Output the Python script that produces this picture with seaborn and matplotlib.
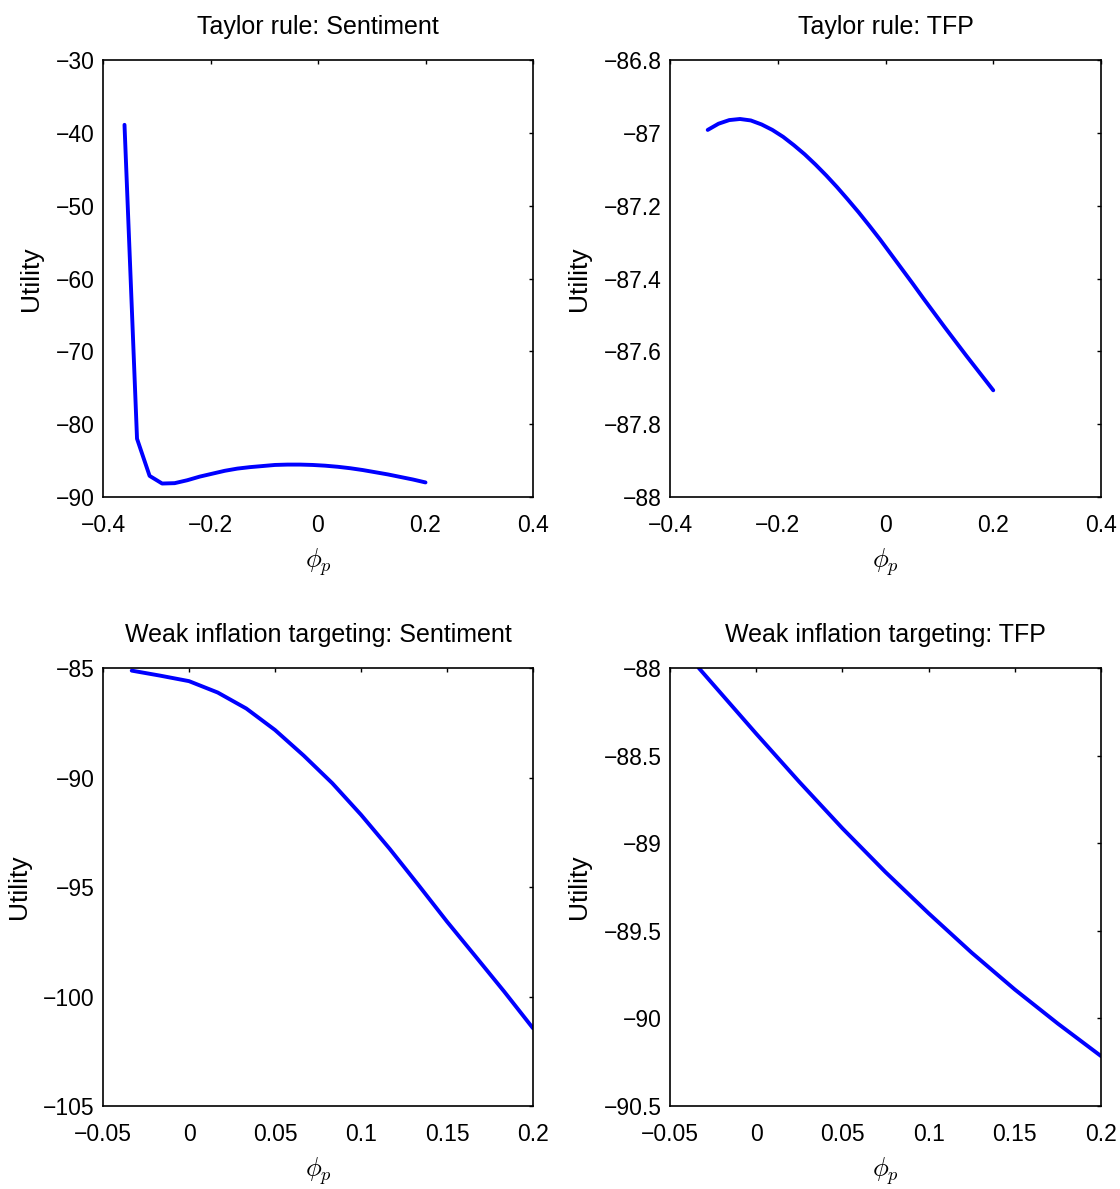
import numpy as np
import pandas as pd
import matplotlib
matplotlib.use("Agg")
import matplotlib.pyplot as plt
from matplotlib.ticker import FuncFormatter
import seaborn as sns

# ---------------- data ----------------
# Panel 1: Taylor rule: Sentiment
tl_phi = [-0.36, -0.3367, -0.3133, -0.29, -0.2667, -0.2433, -0.22, -0.1967,
          -0.1733, -0.15, -0.1267, -0.1033, -0.08, -0.0567, -0.0333, -0.01,
          0.0133, 0.0367, 0.06, 0.0833, 0.1067, 0.13, 0.1533, 0.1767, 0.2]
tl_util = [-38.9, -82.0, -87.1, -88.15, -88.1, -87.7, -87.2, -86.8,
           -86.4, -86.1, -85.9, -85.75, -85.6, -85.55, -85.55, -85.6,
           -85.7, -85.85, -86.05, -86.3, -86.6, -86.9, -87.25, -87.6, -88.0]

# Panel 2: Taylor rule: TFP
tr_phi = [-0.33, -0.31, -0.29, -0.27, -0.25, -0.23, -0.21, -0.19, -0.17,
          -0.15, -0.13, -0.11, -0.09, -0.07, -0.05, -0.03, -0.01, 0.01,
          0.03, 0.05, 0.07, 0.09, 0.11, 0.13, 0.15, 0.17, 0.19, 0.20]
tr_util = [-86.992, -86.975, -86.965, -86.962, -86.966, -86.977, -86.992,
           -87.011, -87.034, -87.059, -87.087, -87.117, -87.149, -87.183,
           -87.218, -87.255, -87.293, -87.333, -87.373, -87.413, -87.454,
           -87.494, -87.534, -87.573, -87.612, -87.650, -87.688, -87.707]

# Panel 3: Weak inflation targeting: Sentiment
bl_phi = [-0.0333, -0.0167, 0.0, 0.0167, 0.0333, 0.05, 0.0667, 0.0833,
          0.1, 0.1167, 0.1333, 0.15, 0.1667, 0.1833, 0.2]
bl_util = [-85.12, -85.35, -85.6, -86.12, -86.85, -87.83, -89.0, -90.26,
           -91.7, -93.26, -94.9, -96.58, -98.18, -99.78, -101.45]

# Panel 4: Weak inflation targeting: TFP
br_phi = [-0.0333, 0.0, 0.025, 0.05, 0.075, 0.1, 0.125, 0.15, 0.175, 0.2]
br_util = [-88.00, -88.375, -88.65, -88.915, -89.165, -89.40, -89.625,
           -89.835, -90.03, -90.215]

titles = ["Taylor rule: Sentiment", "Taylor rule: TFP",
          "Weak inflation targeting: Sentiment", "Weak inflation targeting: TFP"]
xlims = [(-0.4, 0.4), (-0.4, 0.4), (-0.05, 0.2), (-0.05, 0.2)]
ylims = [(-90, -30), (-88, -86.8), (-105, -85), (-90.5, -88)]
xticks = [[-0.4, -0.2, 0, 0.2, 0.4], [-0.4, -0.2, 0, 0.2, 0.4],
          [-0.05, 0, 0.05, 0.1, 0.15, 0.2], [-0.05, 0, 0.05, 0.1, 0.15, 0.2]]
yticks = [[-90, -80, -70, -60, -50, -40, -30],
          [-88, -87.8, -87.6, -87.4, -87.2, -87, -86.8],
          [-105, -100, -95, -90, -85],
          [-90.5, -90, -89.5, -89, -88.5, -88]]
ylabel = "Utility"
xlabel = r"$\phi_p$"

# ---------------- styling ----------------
sns.set_style("white")
plt.rcParams["font.family"] = ["Liberation Sans", "DejaVu Sans"]
plt.rcParams["mathtext.fontset"] = "cm"
plt.rcParams["text.color"] = "black"
plt.rcParams["axes.labelcolor"] = "black"
plt.rcParams["xtick.color"] = "black"
plt.rcParams["ytick.color"] = "black"

fig = plt.figure(figsize=(11.2, 11.89), dpi=100)
W, H = 1120, 1189
boxes = [(103, 60, 533, 497), (670, 60, 1101, 497),
         (103, 668, 533, 1106), (670, 668, 1101, 1106)]

datasets = [(tl_phi, tl_util), (tr_phi, tr_util), (bl_phi, bl_util), (br_phi, br_util)]

fmt = FuncFormatter(lambda v, _: (f"{v:g}").replace("-", "\u2212"))

for i, (box, (xs, ys)) in enumerate(zip(boxes, datasets)):
    l, t, r, b = box
    ax = fig.add_axes([l / W, 1 - b / H, (r - l) / W, (b - t) / H])
    df = pd.DataFrame({"phi": xs, "util": ys})
    sns.lineplot(data=df, x="phi", y="util", ax=ax, color="#0000FF",
                 linewidth=2.8, sort=False)
    ax.set_xlim(*xlims[i])
    ax.set_ylim(*ylims[i])
    ax.set_xticks(xticks[i])
    ax.set_yticks(yticks[i])
    ax.xaxis.set_major_formatter(fmt)
    ax.yaxis.set_major_formatter(fmt)
    ax.tick_params(direction="in", top=True, right=True, length=3.2,
                   width=1.0, labelsize=16.5, color="black", labelcolor="black")
    ax.tick_params(axis="x", pad=12)
    ax.tick_params(axis="y", pad=6)
    for s in ax.spines.values():
        s.set_visible(True)
        s.set_color("black")
        s.set_linewidth(1.2)
    ax.set_title(titles[i], fontsize=18, pad=19, color="black")
    ax.set_xlabel(xlabel, fontsize=19, labelpad=7)
    ax.set_ylabel(ylabel, fontsize=19, labelpad=9)
    ax.grid(False)

fig.savefig("out.png", dpi=100, facecolor="white")
